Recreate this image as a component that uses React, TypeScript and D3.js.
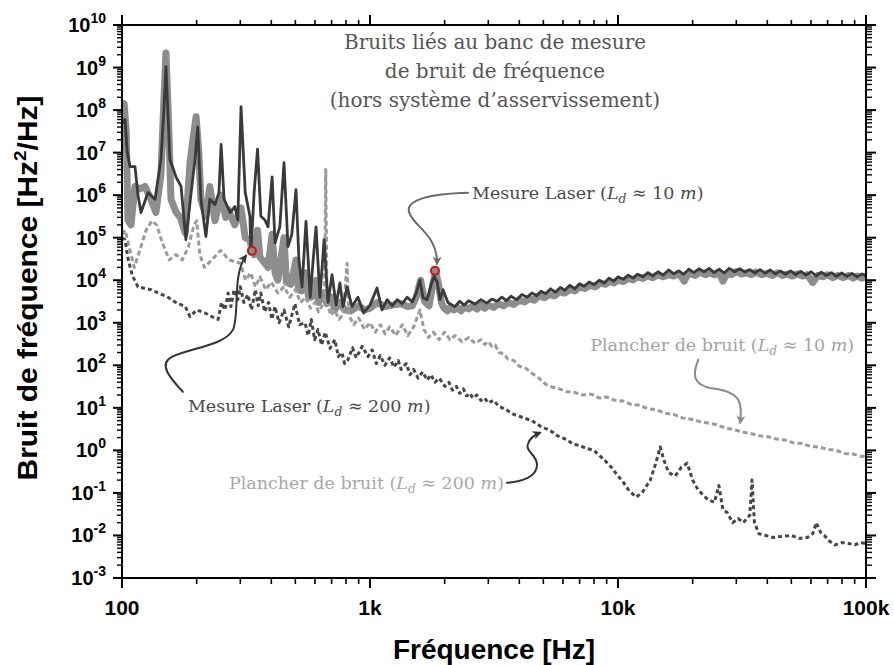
import React from 'react';
import * as d3 from 'd3';

const W = 894;
const H = 665;

// Axis ticks
const xDecades = [100, 1000, 10000, 100000];
const xDecadeLabels = ['100', '1k', '10k', '100k'];
const yExponents = [-3, -2, -1, 0, 1, 2, 3, 4, 5, 6, 7, 8, 9, 10];
const minorMultipliers = [2, 3, 4, 5, 6, 7, 8, 9];

// Title lines
const titleLines = ['Bruits liés au banc de mesure', 'de bruit de fréquence', '(hors système d’asservissement)'];

// Series: [frequency Hz, noise Hz²/Hz]
// Mesure Laser – thick grey trace
const laserGray: [number, number][] = [
  [100, 1.5e8], [102, 1.4e8], [104, 3e7], [105.7, 2.6e5], [108.7, 2e5], [112.8, 1.6e6], [118, 1.4e6],
  [123.8, 1.6e6], [130.8, 8e5], [137, 3.9e5], [143.6, 3e6], [147, 1e8], [150.4, 2.2e9], [153.5, 1e8],
  [157.6, 8e5], [165, 4e5], [172, 3e5], [180, 1.3e5], [188, 5.8e6], [193, 2e7], [199, 7e7], [204, 1e7],
  [208, 8e5], [218, 3.2e5], [226, 1.6e6], [237, 2.5e5], [251, 1e6], [262, 3e5], [268, 4.6e5], [285, 2e5],
  [302, 5e5], [314, 1e5], [328, 9e4], [334, 5.2e4], [341, 4e4], [352, 1.5e5], [360, 3.5e4], [377, 2.5e4],
  [388, 2e4], [403, 1.2e5], [414, 1.5e4], [425, 1e4], [450, 1e5], [460, 9e3], [480, 8e3], [503, 3e4],
  [515, 6e3], [530, 5.6e3], [552, 1.5e4], [565, 4e3], [580, 4e3], [606, 1e4], [620, 3e3], [650, 5e3],
  [670, 2.8e3], [700, 4e3], [720, 2e3], [756, 3e3], [790, 2e3], [837, 1.9e3], [900, 2.5e3], [950, 2e3],
  [1000, 2.2e3], [1067, 3e3], [1149, 2.4e3], [1230, 2.6e3], [1334, 2.8e3], [1420, 2.4e3], [1481, 2.5e3],
  [1536, 4e3], [1600, 1e4], [1660, 3.2e3], [1730, 2.5e3], [1790, 8e3], [1840, 1.6e4], [1890, 8e3],
  [1940, 3e3], [1990, 2.2e3], [2050, 1.9e3], [2100, 2.3e3], [2180, 2e3], [2250, 2.3e3], [2330, 1.9e3],
  [2400, 2.4e3], [2500, 2.1e3], [2600, 2.5e3], [2700, 2.1e3], [2800, 2.6e3], [2900, 2.2e3], [3000, 2.6e3],
  [3150, 2.3e3], [3300, 2.8e3], [3450, 2.5e3], [3600, 3e3], [3800, 2.7e3], [4000, 3.4e3], [4200, 3.1e3],
  [4400, 3.7e3], [4600, 3.4e3], [4800, 4.3e3], [5050, 3.9e3], [5300, 4.6e3], [5550, 4.3e3], [5800, 5.4e3],
  [6100, 5e3], [6400, 6e3], [6700, 5.6e3], [7000, 7e3], [7350, 6.4e3], [7700, 7.6e3], [8100, 7e3],
  [8500, 8.6e3], [8900, 8e3], [9300, 9.4e3], [9650, 8.6e3], [10000, 1e4], [10500, 9.3e3], [11000, 1.1e4],
  [11500, 1.02e4], [12000, 1.2e4], [12600, 1.1e4], [13200, 1.26e4], [13800, 1.15e4], [14500, 1.35e4],
  [15200, 1.2e4], [16000, 1.35e4], [16800, 1.25e4], [17500, 1.45e4], [18000, 1.2e4], [18500, 9.5e3],
  [19000, 1.3e4], [19500, 1.45e4], [20500, 1.3e4], [21500, 1.55e4], [22500, 1.35e4], [23500, 1.5e4],
  [24500, 1.35e4], [25500, 1.55e4], [26500, 9.5e3], [27500, 1.45e4], [28700, 1.35e4], [30000, 1.6e4],
  [31500, 1.4e4], [33000, 1.5e4], [34500, 1.35e4], [36000, 1.55e4], [38000, 1.35e4], [40000, 1.45e4],
  [42000, 1.3e4], [44000, 1.5e4], [46000, 1.3e4], [48000, 1.4e4], [50500, 1.25e4], [53000, 1.42e4],
  [55500, 1.25e4], [58000, 1.35e4], [61000, 8.9e3], [64000, 1.3e4], [67000, 1.2e4], [70000, 1.35e4],
  [73500, 1.15e4], [77000, 1.3e4], [81000, 1.15e4], [85000, 1.3e4], [88500, 1.12e4], [92000, 1.25e4],
  [96000, 1.12e4], [100000, 1.22e4],
];

// Mesure Laser – thin dark trace
const laserDark: [number, number][] = [
  [100, 5e7], [102.8, 6e7], [105, 1e7], [107.7, 4.7e6], [112.8, 4.7e6], [116, 1e6], [119.3, 3.9e5],
  [127.3, 1.15e6], [135.9, 8e5], [143.6, 7e6], [147.5, 1e8], [150.4, 1.05e9], [153, 1e8], [156, 7e6],
  [165, 2.7e6], [173, 1.6e6], [181, 9e4], [190, 1.15e6], [197, 7e6], [202, 4e7], [208, 8e5], [218, 1.07e5],
  [226, 8e5], [237, 6e5], [246, 1.15e6], [251, 1.55e7], [258, 8e5], [273, 3.9e5], [285, 5.4e5], [293, 2.6e5],
  [302, 1.2e8], [314, 1.15e6], [328, 3.2e5], [331, 4.4e4], [341, 1.15e6], [352, 1.2e7], [363, 3.2e5],
  [377, 2.6e5], [388, 1.8e5], [403, 2.7e6], [414, 7.6e4], [433, 1.8e5], [450, 5.8e6], [467, 6.2e4],
  [484, 1.2e5], [503, 1.35e6], [517, 3e4], [532, 7e3], [552, 2.4e5], [574, 4e3], [590, 3e4], [606, 1.8e5],
  [628, 4e3], [653, 9e4], [677, 3e3], [703, 1.35e4], [730, 2.6e3], [756, 8.7e3], [778, 2.4e3], [808, 7e3],
  [846, 2.4e3], [894, 4e3], [943, 1.7e3], [1000, 2.6e3], [1067, 6.6e3], [1118, 2e3], [1173, 3.5e3],
  [1228, 2.5e3], [1287, 3.5e3], [1348, 2.8e3], [1413, 4e3], [1481, 3.1e3], [1536, 5e3], [1591, 1e4],
  [1635, 3.9e3], [1699, 3.5e3], [1765, 7.8e3], [1814, 1.25e4], [1866, 9e3], [1915, 3.5e3], [1970, 6e3],
  [2062, 3e3], [2200, 2.4e3], [2300, 3.2e3], [2400, 2.6e3], [2500, 3.3e3], [2650, 2.75e3], [2800, 3.5e3],
  [2950, 2.9e3], [3100, 3.6e3], [3250, 3.2e3], [3400, 4e3], [3550, 3.3e3], [3700, 4.2e3], [3900, 3.5e3],
  [4100, 4.6e3], [4300, 4e3], [4500, 5e3], [4700, 4.3e3], [4900, 5.5e3], [5100, 4.8e3], [5350, 6.3e3],
  [5600, 5.2e3], [5850, 6.8e3], [6100, 5.8e3], [6400, 7.6e3], [6700, 6.3e3], [7000, 8.3e3], [7300, 7.2e3],
  [7650, 9.1e3], [8000, 7.9e3], [8400, 1e4], [8800, 8.5e3], [9200, 1.12e4], [9600, 9.5e3], [10000, 1.2e4],
  [10500, 1.05e4], [11000, 1.32e4], [11500, 1.12e4], [12000, 1.38e4], [12600, 1.2e4], [13200, 1.51e4],
  [13800, 1.26e4], [14500, 1.58e4], [15200, 1.32e4], [16000, 1.74e4], [16800, 1.41e4], [17600, 1.66e4],
  [18400, 1.38e4], [19300, 1.82e4], [20200, 1.51e4], [21200, 1.86e4], [22200, 1.58e4], [23300, 1.9e4],
  [24400, 1.51e4], [25600, 1.82e4], [26800, 1.48e4], [28100, 1.9e4], [29500, 1.58e4], [31000, 1.86e4],
  [32500, 1.55e4], [34000, 1.78e4], [35700, 1.48e4], [37400, 1.78e4], [39200, 1.45e4], [41100, 1.74e4],
  [43100, 1.41e4], [45200, 1.66e4], [47400, 1.38e4], [49700, 1.66e4], [52100, 1.35e4], [54600, 1.62e4],
  [57300, 1.32e4], [60100, 1.58e4], [63000, 1.26e4], [66000, 1.55e4], [69200, 1.29e4], [72600, 1.51e4],
  [76100, 1.23e4], [79800, 1.48e4], [83700, 1.23e4], [87800, 1.45e4], [92000, 1.2e4], [96500, 1.41e4],
  [100000, 1.26e4],
];

// Plancher de bruit (L_d ≈ 10 m) – light dashed
const floor10: [number, number][] = [
  [100, 1.2e5], [103, 1.5e5], [107, 6e4], [112, 2e4], [118, 5e4], [125, 1.5e5], [132, 2.5e5], [138, 2e5],
  [145, 8e4], [155, 3e4], [165, 4e4], [175, 3e4], [185, 6e4], [195, 2e5], [200, 2.5e5], [206, 4e4],
  [215, 2e4], [230, 3e4], [250, 5e4], [270, 3e4], [300, 2.5e4], [315, 1e4], [330, 1.5e4], [345, 7e3],
  [360, 1.2e4], [380, 6e3], [400, 9e3], [425, 5e3], [450, 7e3], [475, 4e3], [500, 6e3], [525, 3e3],
  [550, 4e3], [575, 2.2e3], [600, 3e3], [620, 1.8e3], [640, 2.5e3], [655, 3e3], [663, 4e6], [671, 3e3],
  [695, 1.5e3], [720, 2e3], [750, 1.2e3], [780, 1.6e3], [808, 2.5e4], [822, 1.5e3], [860, 9e2],
  [900, 1.3e3], [950, 7e2], [1000, 1e3], [1050, 6e2], [1100, 9e2], [1150, 5.5e2], [1200, 8e2],
  [1270, 5e2], [1350, 9e2], [1420, 5e2], [1500, 8e2], [1590, 2e3], [1650, 7e2], [1720, 4.5e2],
  [1800, 6e2], [1900, 4e2], [2000, 6e2], [2100, 4e2], [2200, 5e2], [2350, 3.6e2], [2500, 4.5e2],
  [2650, 3.3e2], [2800, 4e2], [2900, 3.1e2], [3000, 3.6e2], [3100, 2.8e2], [3200, 3e2], [3300, 2e2],
  [3450, 1.9e2], [3600, 1.4e2], [3800, 1.3e2], [4000, 9.5e1], [4250, 8.5e1], [4500, 6.5e1], [4800, 5e1],
  [5100, 3.6e1], [5400, 3.1e1], [5800, 2.8e1], [6200, 2.4e1], [6700, 2.3e1], [7200, 2e1], [7800, 2.1e1],
  [8400, 1.7e1], [9000, 1.8e1], [9700, 1.5e1], [10500, 1.45e1], [11300, 1.2e1], [12200, 1.15e1],
  [13200, 9.5], [14300, 9], [15500, 7.5], [16800, 7], [18200, 5.8], [19700, 5.4], [21300, 4.8],
  [23000, 4.4], [25000, 4], [27000, 3.4], [29300, 3.1], [31700, 2.7], [34300, 2.5], [37100, 2.2],
  [40200, 2.1], [43500, 1.85], [47100, 1.75], [51000, 1.5], [55200, 1.45], [59700, 1.25], [64600, 1.2],
  [70000, 1.05], [75700, 1.0], [82000, 0.85], [88700, 0.82], [96000, 0.72], [100000, 0.75],
];

// Plancher de bruit (L_d ≈ 200 m) – dark dashed
const floor200: [number, number][] = [
  [100, 1e5], [102.8, 9e4], [106, 3e4], [110, 1.3e4], [116, 7e3], [123, 6.5e3], [131, 6e3], [140, 5e3],
  [153, 4e3], [165, 3e3], [180, 2.4e3], [188, 1.4e3], [200, 2e3], [216, 1.7e3], [230, 1.4e3], [244, 1.2e3],
  [252, 3e3], [260, 2e3], [268, 5e3], [275, 2.4e3], [283, 6e3], [293, 3.5e3], [300, 7e3], [310, 3e3],
  [322, 4.6e3], [333, 2e3], [345, 6e3], [354, 2.5e3], [363, 5e3], [376, 1.8e3], [390, 3e3], [402, 1.2e3],
  [414, 2.4e3], [430, 1e3], [450, 2e3], [470, 8e2], [498, 2.8e3], [520, 9e2], [547, 1e3], [563, 5e2],
  [580, 1.2e3], [598, 4e2], [617, 7e2], [638, 3e2], [660, 6e2], [690, 2.5e2], [722, 4e2], [745, 1.6e2],
  [770, 2e2], [790, 1.1e2], [815, 1.35e2], [850, 2.6e2], [880, 1.5e2], [930, 2.8e2], [981, 1.6e2],
  [1020, 2.3e2], [1060, 1.1e2], [1100, 1.7e2], [1149, 1e2], [1200, 1.5e2], [1250, 9e1], [1300, 1.3e2],
  [1334, 8e1], [1400, 1.1e2], [1450, 6e1], [1500, 8e1], [1562, 5e1], [1630, 7e1], [1700, 4.5e1],
  [1760, 6e1], [1828, 4e1], [1900, 5e1], [2005, 3.2e1], [2080, 4e1], [2150, 2.6e1], [2230, 3.2e1],
  [2300, 2.2e1], [2380, 2.8e1], [2450, 1.9e1], [2530, 2.2e1], [2600, 1.7e1], [2700, 2e1], [2800, 1.5e1],
  [2900, 1.7e1], [3000, 1.3e1], [3150, 1.5e1], [3300, 1.1e1], [3550, 9], [3800, 7], [4100, 6], [4500, 5],
  [4900, 3.6], [5300, 3], [5700, 2.2], [6200, 1.8], [6600, 1.4], [7000, 1.3], [7500, 1.1], [8000, 1.0],
  [8800, 0.6], [9400, 0.4], [10000, 0.25], [10500, 0.18], [11000, 0.12], [11800, 0.08], [12500, 0.1],
  [13500, 0.2], [14200, 0.5], [14800, 1.2], [15300, 0.6], [16000, 0.3], [17000, 0.25], [18000, 0.4],
  [19000, 0.5], [20000, 0.2], [21000, 0.12], [22000, 0.09], [23000, 0.07], [24500, 0.06], [25500, 0.15],
  [26500, 0.04], [27500, 0.035], [29000, 0.02], [30500, 0.025], [32000, 0.02], [34000, 0.03], [34700, 0.2],
  [35500, 0.02], [37000, 0.011], [39500, 0.01], [42000, 0.009], [46000, 0.0095], [50000, 0.01],
  [54000, 0.0085], [58000, 0.009], [61000, 0.011], [63000, 0.02], [65500, 0.012], [68000, 0.01],
  [71000, 0.0075], [75000, 0.006], [80000, 0.0068], [85000, 0.0065], [90000, 0.006], [95000, 0.0068],
  [100000, 0.0065],
];

// Annotated points (red circles)
const markerPoints: [number, number][] = [[334, 4.9e4], [1828, 1.67e4]];
// Arrow tips for the noise-floor labels
const floorTips: [number, number][] = [[31100, 4], [4893, 2.6]];

const SERIF = "'DejaVu Serif', 'Liberation Serif', serif";
const SANS = "'Liberation Sans', Arial, sans-serif";

function MathLabel({ x, y, text, value, fill, anchor = 'start', size = 17.5 }: any) {
  return (
    <text x={x} y={y} fontFamily={SERIF} fontSize={size} fill={fill} textAnchor={anchor}>
      {text} (<tspan fontStyle="italic">L</tspan>
      <tspan fontStyle="italic" fontSize={size * 0.7} dy={4}>d</tspan>
      <tspan dy={-4}>{' ≈ ' + value + ' '}</tspan>
      <tspan fontStyle="italic">m</tspan>)
    </text>
  );
}

export default function App() {
  const left = 122, right = 866, top = 25, bottom = 578;
  const x = d3.scaleLog().domain([100, 1e5]).range([left, right]);
  const y = d3.scaleLog().domain([1e-3, 1e10]).range([bottom, top]);
  const line = d3.line<[number, number]>().x((d) => x(d[0])).y((d) => y(d[1]));

  const xMinor: number[] = [];
  xDecades.slice(0, -1).forEach((d) => minorMultipliers.forEach((m) => xMinor.push(d * m)));
  const yMinor: number[] = [];
  yExponents.slice(0, -1).forEach((e) => minorMultipliers.forEach((m) => yMinor.push(m * Math.pow(10, e))));

  const [m1, m2] = markerPoints.map((p) => [x(p[0]), y(p[1])]);
  const [t10, t200] = floorTips.map((p) => [x(p[0]), y(p[1])]);

  const rel = (p: number[], pts: number[][]) => pts.map((q) => `${p[0] + q[0]},${p[1] + q[1]}`);

  const arrowA = (() => {
    const r = rel(m1, [[-69, 141], [-82, 127], [-94, 113], [-80, 106], [-62, 97], [-28, 95], [-19, 79], [-12, 64], [-20, 24], [-6, 5]]);
    return `M${r[0]} C${r[1]} ${r[2]} ${r[3]} C${r[4]} ${r[5]} ${r[6]} C${r[7]} ${r[8]} ${r[9]}`;
  })();
  const arrowB = (() => {
    const r = rel(m2, [[33, -78], [-5, -77], [-29, -71], [-26, -59], [-23, -45], [3, -37], [2, -7]]);
    return `M${r[0]} C${r[1]} ${r[2]} ${r[3]} C${r[4]} ${r[5]} ${r[6]}`;
  })();
  const arrowC = (() => {
    const r = rel(t10, [[-42, -65], [-48, -50], [-48, -39], [-25, -36], [2, -32], [2, -20], [0, -2]]);
    return `M${r[0]} C${r[1]} ${r[2]} ${r[3]} C${r[4]} ${r[5]} ${r[6]}`;
  })();
  const arrowD = (() => {
    const r = rel(t200, [[-34, 50], [-19, 49], [-4, 44], [-4, 32], [-4, 22], [-16, 19], [-13, 11], [-11, 5], [-6, 2], [-1, 0]]);
    return `M${r[0]} C${r[1]} ${r[2]} ${r[3]} C${r[4]} ${r[5]} ${r[6]} C${r[7]} ${r[8]} ${r[9]}`;
  })();

  const markers = [
    { id: 'ah-dark', color: '#333333' },
    { id: 'ah-mid', color: '#6a6a6a' },
    { id: 'ah-light', color: '#8a8a8a' },
  ];

  return (
    <svg width={W} height={H} style={{ position: 'absolute', left: 0, top: 0, background: '#fff' }}>
      <defs>
        <clipPath id="plot">
          <rect x={left} y={top} width={right - left} height={bottom - top} />
        </clipPath>
        {markers.map((m) => (
          <marker key={m.id} id={m.id} viewBox="0 0 10 10" refX="8" refY="5" markerWidth="9" markerHeight="9" markerUnits="userSpaceOnUse" orient="auto">
            <path d="M0,0 L10,5 L0,10 L3,5 Z" fill={m.color} />
          </marker>
        ))}
      </defs>
      <rect x={0} y={0} width={W} height={H} fill="#fff" />

      <g clipPath="url(#plot)" fill="none" strokeLinejoin="round">
        <path d={line(laserGray) || ''} stroke="#8d8d8d" strokeWidth={7} />
        <path d={line(floor10) || ''} stroke="#9b9b9b" strokeWidth={3} strokeDasharray="5,3" />
        <path d={line(floor200) || ''} stroke="#474747" strokeWidth={3} strokeDasharray="4,3" />
        <path d={line(laserDark) || ''} stroke="#3a3a3a" strokeWidth={2.8} />
      </g>

      {/* frame */}
      <rect x={left} y={top} width={right - left} height={bottom - top} fill="none" stroke="#000" strokeWidth={2} />

      {/* x ticks */}
      {xDecades.map((d) => (
        <g key={'xM' + d} stroke="#000" strokeWidth={2}>
          <line x1={x(d)} x2={x(d)} y1={bottom} y2={bottom + 10} />
          <line x1={x(d)} x2={x(d)} y1={top} y2={top - 10} />
        </g>
      ))}
      {xMinor.map((d) => (
        <g key={'xm' + d} stroke="#000" strokeWidth={1.6}>
          <line x1={x(d)} x2={x(d)} y1={bottom} y2={bottom + 6} />
          <line x1={x(d)} x2={x(d)} y1={top} y2={top - 5} />
        </g>
      ))}
      {xDecades.map((d, i) => (
        <text key={'xl' + d} x={x(d)} y={615} textAnchor="middle" fontFamily={SANS} fontWeight="bold" fontSize={21} fill="#000">
          {xDecadeLabels[i]}
        </text>
      ))}

      {/* y ticks */}
      {yExponents.map((e) => (
        <g key={'yM' + e} stroke="#000" strokeWidth={2}>
          <line x1={left} x2={left - 9} y1={y(Math.pow(10, e))} y2={y(Math.pow(10, e))} />
          <line x1={right} x2={right + 10} y1={y(Math.pow(10, e))} y2={y(Math.pow(10, e))} />
        </g>
      ))}
      {yMinor.map((v, i) => (
        <g key={'ym' + i} stroke="#000" strokeWidth={1.4}>
          <line x1={left} x2={left - 5} y1={y(v)} y2={y(v)} />
          <line x1={right} x2={right + 6} y1={y(v)} y2={y(v)} />
        </g>
      ))}
      {yExponents.map((e) => (
        <text key={'yl' + e} x={106} y={y(Math.pow(10, e)) + 7} textAnchor="end" fontFamily={SANS} fontWeight="bold" fontSize={20} fill="#000">
          10<tspan fontSize={14} dy={-9}>{String(e)}</tspan>
        </text>
      ))}

      {/* axis titles */}
      <text x={(left + right) / 2} y={659} textAnchor="middle" fontFamily={SANS} fontWeight="bold" fontSize={28} fill="#000">
        Fréquence [Hz]
      </text>
      <text transform="translate(37, 288) rotate(-90)" textAnchor="middle" fontFamily={SANS} fontWeight="bold" fontSize={27} fill="#000" textLength={385} lengthAdjust="spacingAndGlyphs">
        Bruit de fréquence [Hz<tspan fontSize={17} dy={-11}>2</tspan><tspan dy={11}>/Hz]</tspan>
      </text>

      {/* title */}
      {titleLines.map((t, i) => (
        <text key={'t' + i} x={(left + right) / 2 + 1} y={49 + i * 29} textAnchor="middle" fontFamily={SERIF} fontSize={20} fill="#555">
          {t}
        </text>
      ))}

      {/* arrows */}
      <g fill="none" strokeWidth={2} strokeLinecap="round">
        <path d={arrowA} stroke="#333333" markerEnd="url(#ah-dark)" />
        <path d={arrowB} stroke="#6a6a6a" markerEnd="url(#ah-mid)" />
        <path d={arrowC} stroke="#8a8a8a" markerEnd="url(#ah-light)" />
        <path d={arrowD} stroke="#333333" markerEnd="url(#ah-dark)" />
      </g>

      {/* red markers */}
      {[m1, m2].map((p, i) => (
        <circle key={'mk' + i} cx={p[0]} cy={p[1]} r={4} fill="#8a8a8a" stroke="#cc1111" strokeWidth={2} />
      ))}

      {/* labels */}
      <MathLabel x={m1[0] - 64} y={m1[1] + 161} text="Mesure Laser" value="200" fill="#4a4a4a" />
      <MathLabel x={m2[0] + 37} y={m2[1] - 72} text="Mesure Laser" value="10" fill="#4a4a4a" />
      <MathLabel x={t10[0] - 18} y={t10[1] - 74} text="Plancher de bruit" value="10" fill="#a3a3a3" anchor="middle" />
      <MathLabel x={t200[0] - 37} y={t200[1] + 56} text="Plancher de bruit" value="200" fill="#a8a8a8" anchor="end" />
    </svg>
  );
}
